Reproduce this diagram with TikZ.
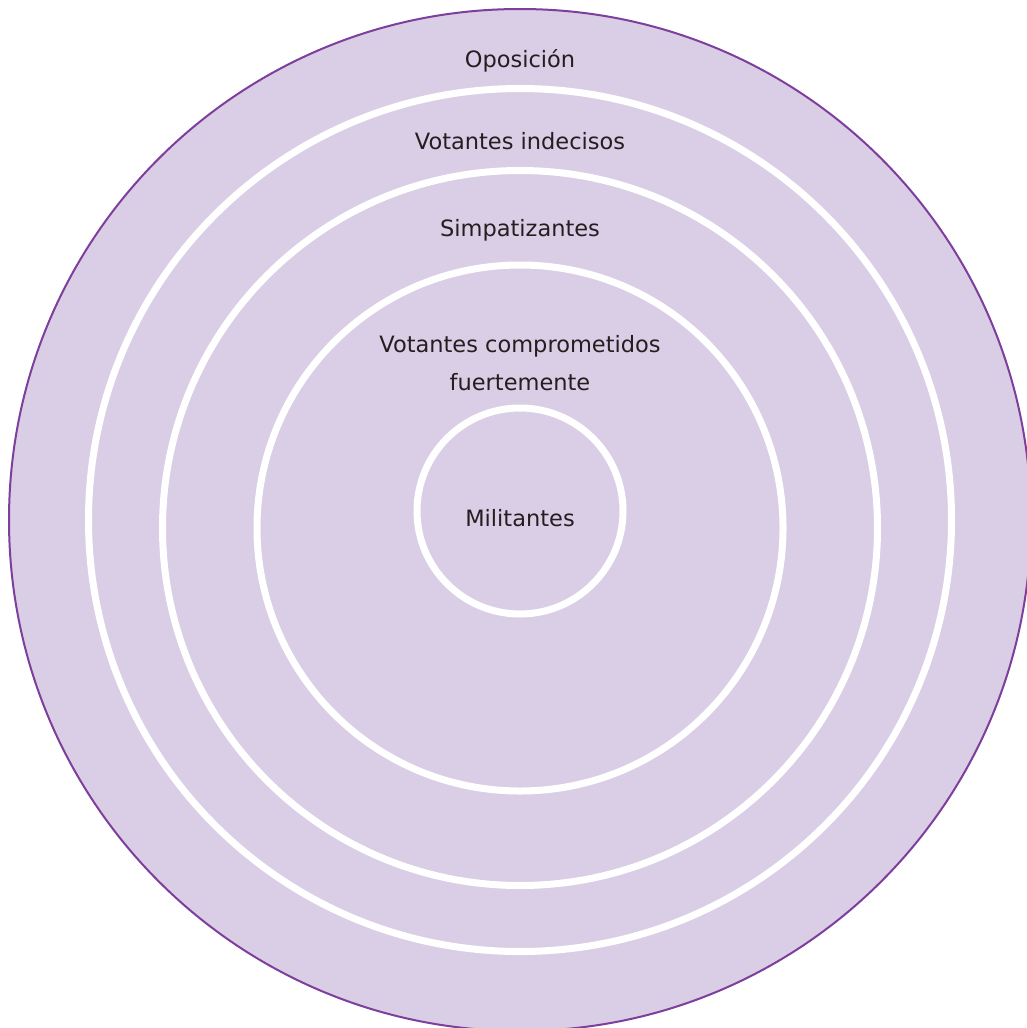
\documentclass[tikz,border=0pt]{standalone}
\usepackage{fontspec}
\setmainfont{DejaVu Sans}
\usetikzlibrary{positioning}
\definecolor{lavanda}{RGB}{217,206,230}
\definecolor{morado}{RGB}{125,63,155}
\definecolor{texto}{RGB}{35,31,32}

\begin{document}
\begin{tikzpicture}[
        x=1pt, y=-1pt,
        every node/.style={inner sep=0pt, outer sep=0pt},
        capa/.style={circle, draw=white, line width=7pt},
        rotulo/.style={font=\fontsize{22.5}{38}\selectfont, text=texto, align=center, anchor=base}
    ]
    \useasboundingbox (0,0) rectangle (1027,1028);
    \clip (0,0) rectangle (1027,1028);

    % Circles
    \node[circle, fill=lavanda, draw=morado, line width=2pt, minimum size=1022pt] (oposicion) at (520,520) {};
    \node[capa, minimum size=863pt] (indecisos) at (520,520) {};
    \node[capa, minimum size=715pt] (simpatizantes) at (520,528) {};
    \node[capa, minimum size=526pt] (comprometidos) at (520,528) {};
    \node[capa, minimum size=206pt] (militantes) at (520,511) {};

    % Labels
    \node[rotulo] (t_oposicion) at (520,67) {Oposición};
    \node[rotulo] (t_indecisos) at (520,149) {Votantes indecisos};
    \node[rotulo] (t_simpatizantes) at (520,236) {Simpatizantes};
    \node[rotulo] (t_comprometidos) at (520,390) {Votantes comprometidos\\fuertemente};
    \node[rotulo] (t_militantes) at (520,526) {Militantes};

\end{tikzpicture}
\end{document}
